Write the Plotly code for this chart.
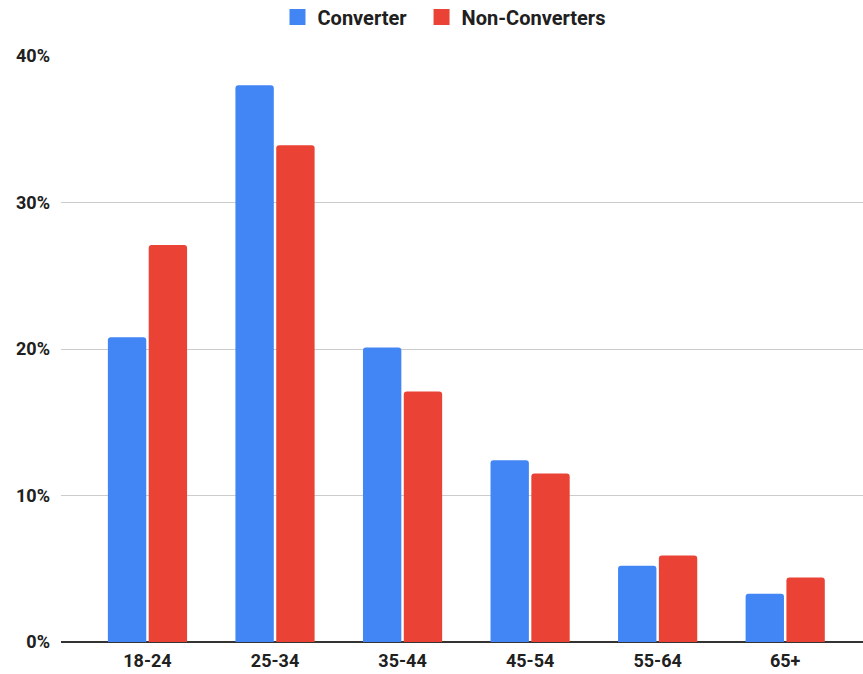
import plotly.graph_objects as go

age_groups = ["18-24", "25-34", "35-44", "45-54", "55-64", "65+"]
converter = [0.208, 0.380, 0.201, 0.124, 0.052, 0.033]
non_converters = [0.271, 0.339, 0.171, 0.115, 0.059, 0.044]
series_names = ["Converter", "Non-Converters"]

BLUE = "#4285F4"
RED = "#EA4335"
FONT = "Roboto, Arial, sans-serif"
TEXT = "#202020"

fig = go.Figure()
for i, (name, vals, col) in enumerate(zip(series_names, [converter, non_converters], [BLUE, RED])):
    fig.add_trace(go.Bar(x=age_groups, y=vals, name=name, showlegend=False,
                         marker=dict(color=col, line=dict(width=0))))
    # legend entry drawn as a filled square swatch; extra padding after the first label
    label = name + ("\u00a0\u00a0" if i == 0 else "")
    fig.add_trace(go.Scatter(x=[None], y=[None], mode="markers", name=label,
                             marker=dict(symbol="square", size=16, color=col),
                             showlegend=True, hoverinfo="skip"))

fig.update_layout(
    width=863, height=674,
    margin=dict(l=61, r=0, t=56, b=32),
    paper_bgcolor="white", plot_bgcolor="white",
    barmode="group", bargap=0.36, bargroupgap=0.06,
    barcornerradius=3,
    font=dict(family=FONT, size=18, color=TEXT),
    legend=dict(orientation="h", xref="container", x=444 / 863, xanchor="center",
                yref="container", y=1 - 17 / 674, yanchor="middle",
                font=dict(family=FONT, size=20, color=TEXT, weight="bold"),
                itemwidth=30, traceorder="normal", tracegroupgap=0),
    showlegend=True,
)

fig.update_xaxes(
    type="category", range=[-0.678, 5.61],
    showgrid=False, showline=False, ticks="",
    tickfont=dict(family=FONT, size=18, color=TEXT, weight="bold"),
    ticklabelstandoff=6,
)
fig.update_yaxes(
    range=[0, 0.4], tickvals=[0, 0.1, 0.2, 0.3, 0.4], tickformat=".0%",
    showgrid=True, gridcolor="#cccccc", gridwidth=1,
    zeroline=True, zerolinecolor="#333333", zerolinewidth=1.5,
    showline=False, ticks="",
    tickfont=dict(family=FONT, size=18, color=TEXT, weight="bold"),
    ticklabelstandoff=10,
)

fig.write_html("out.html")
